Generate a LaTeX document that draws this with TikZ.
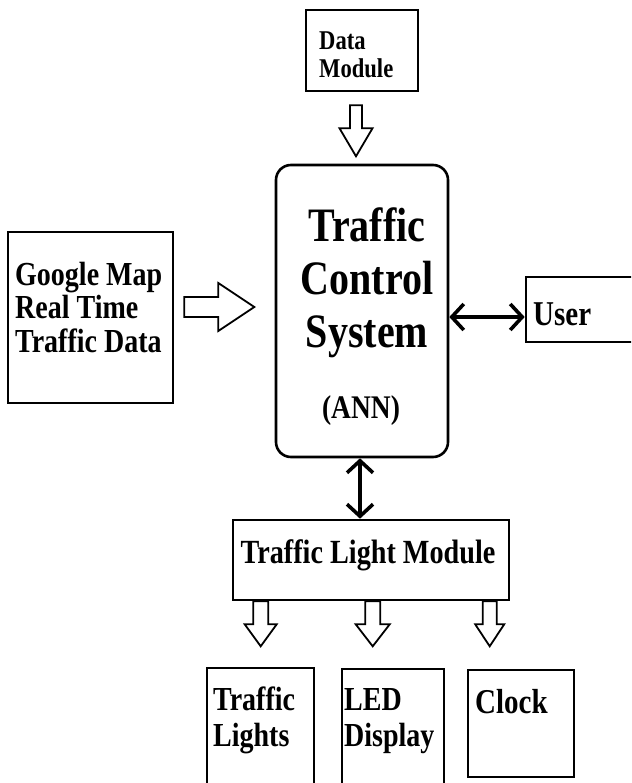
\documentclass[tikz,border=0pt]{standalone}
\usepackage{fontspec}
\usepackage{graphicx}
\setmainfont{Liberation Serif}
\usetikzlibrary{arrows.meta,calc}

% bold text, stretched vertically, one tabular row per line
\newcommand\ltxt[3]{\fontsize{#1}{#2}\selectfont\bfseries\scalebox{1}[1.2]{\begin{tabular}[t]{@{}l@{}}#3\end{tabular}}}
\newcommand\ctxt[3]{\fontsize{#1}{#2}\selectfont\bfseries\scalebox{1}[1.2]{\begin{tabular}[t]{@{}c@{}}#3\end{tabular}}}

\tikzset{
  box/.style={draw, line width=2.6pt, inner sep=0pt},
  lbl/.style={inner sep=0pt, anchor=base west},
  clbl/.style={inner sep=0pt, anchor=base},
  hol/.style={draw, line width=1.8pt, fill=white, line join=miter},
  dbl/.style={line width=3.6pt,
    {Straight Barb[length=12pt,width=26pt]}-{Straight Barb[length=12pt,width=26pt]}},
  % hollow block arrow pointing down: shaft half width, head half width, shaft length, head length
  pics/hdown/.style n args={4}{code={
    \draw[hol] (-#1,0) -- (#1,0) -- (#1,#3) -- (#2,#3) -- (0,#3+#4)
      -- (-#2,#3) -- (-#1,#3) -- cycle;}},
  % hollow block arrow pointing right
  pics/hright/.style n args={4}{code={
    \draw[hol] (0,-#1) -- (0,#1) -- (#3,#1) -- (#3,#2) -- (#3+#4,0)
      -- (#3,-#2) -- (#3,-#1) -- cycle;}}
}

\begin{document}
\begin{tikzpicture}[x=1pt,y=-1pt]
\useasboundingbox (0,0) rectangle (631,783);
\clip (0,0) rectangle (631,783);

% boxes
\node[box, minimum width=112pt, minimum height=81pt] (dm) at (362,50.5) {};
\node[box, minimum width=165pt, minimum height=171pt] (gm) at (90.5,317.5) {};
\node[box, rounded corners=15pt, minimum width=172pt, minimum height=292pt] (tcs) at (362,311) {};
\node[box, minimum width=119pt, minimum height=65pt] (user) at (585.5,309.5) {};
\node[box, minimum width=276pt, minimum height=80pt] (tlm) at (371,560) {};
\node[box, minimum width=107pt, minimum height=127pt] (tl) at (260.5,731.5) {};
\node[box, minimum width=102pt, minimum height=126pt] (led) at (393,732) {};
\node[box, minimum width=106pt, minimum height=107pt] (clk) at (521,723.5) {};

% texts
\node[lbl] (tdm) at (319,50) {\ltxt{22.6}{23.3}{Data\\Module}};
\node[lbl] (tgm) at (15,285) {\ltxt{28}{28.3}{Google Map\\Real Time\\Traffic Data}};
\node[clbl] (ttcs) at (367,242) {\ctxt{40}{44}{Traffic\\Control\\System}};
\node[clbl] (tann) at (361,418) {\ctxt{27.5}{30}{(ANN)}};
\node[lbl] (tuser) at (533,325) {\ltxt{29}{30}{User}};
\node[clbl] (ttlm) at (368,563) {\ctxt{28.2}{30}{Traffic Light Module}};
\node[lbl] (ttl) at (213,710) {\ltxt{28}{30.8}{Traffic\\Lights}};
\node[lbl] (tled) at (344,710) {\ltxt{28}{30.8}{LED\\Display}};
\node[lbl] (tclk) at (475,713) {\ltxt{29}{30}{Clock}};

% hollow block arrows
\pic at ($(dm.south)+(-6,13)$) {hdown={6}{16.5}{23}{28}};
\pic at ($(gm.east)+(10,-10.5)$) {hright={10}{24}{34}{36}};
\pic at ($(tlm.south west)+(29,0)$) {hdown={7.5}{16}{23}{22}};
\pic at ($(tlm.south west)+(141,0)$) {hdown={7.5}{17}{23}{22}};
\pic at ($(tlm.south west)+(258,0)$) {hdown={7}{14.5}{23}{22}};

% two-way links
\draw[dbl] ([yshift=-6pt]tcs.east) -- ([yshift=-7.5pt]user.west);
\draw[dbl] ([xshift=-2pt]tcs.south) -- ([xshift=-11pt]tlm.north);
\end{tikzpicture}
\end{document}
